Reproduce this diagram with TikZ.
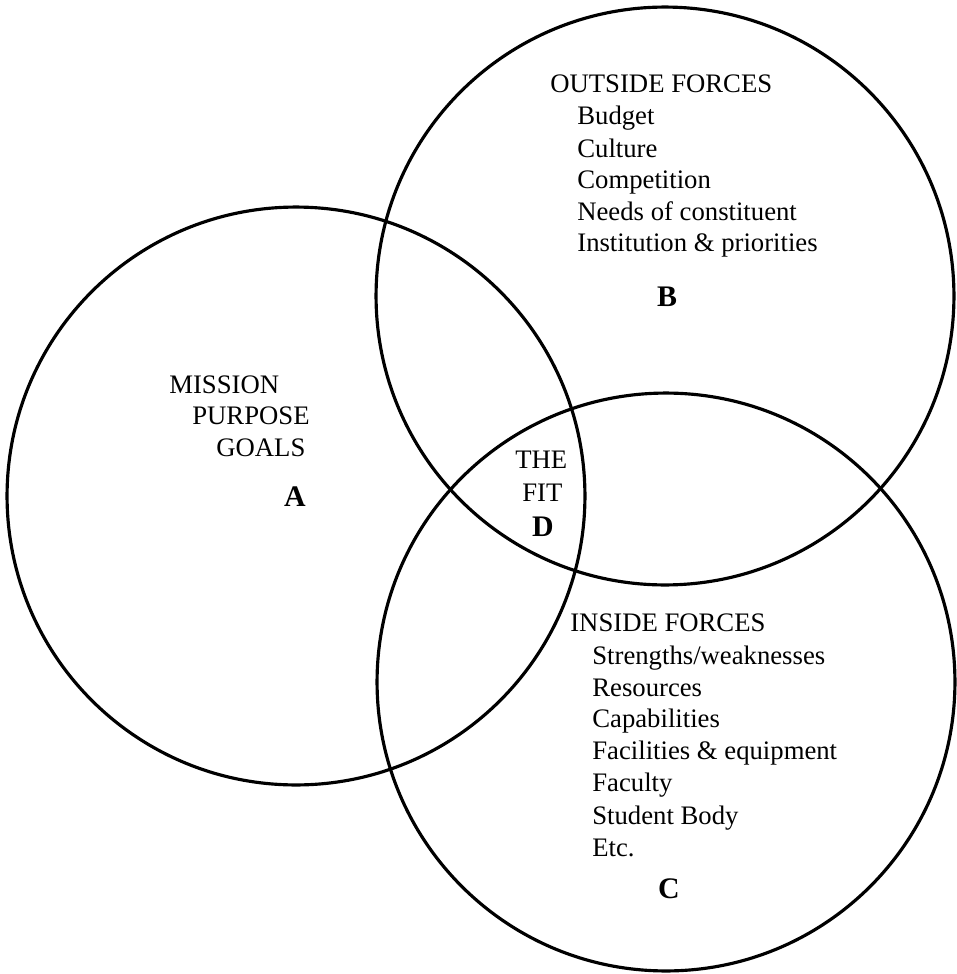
\documentclass[tikz,border=0pt]{standalone}
\usepackage{fontspec}
\setmainfont{Liberation Serif}
\begin{document}
\begin{tikzpicture}[x=0.02cm,y=-0.02cm,
  ring/.style={circle,draw=black,line width=1.8pt,
    minimum size=11.56cm,inner sep=0},
  item/.style={anchor=base west,inner sep=0,
    font=\fontsize{15.2}{18}\selectfont},
  tag/.style={inner sep=0,
    font=\fontsize{17}{20}\selectfont\bfseries}]
  \useasboundingbox (0,0) rectangle (957,974);
  \node[ring] (circA) at (296,496) {};
  \node[ring] (circB) at (665,296) {};
  \node[ring] (circC) at (666,682) {};
  % mission
  \node[item] (mission) at (169,393) {MISSION};
  \node[item] (purpose) at (192,424) {PURPOSE};
  \node[item] (goals) at (216,456) {GOALS};
  \node[tag] (tagA) at (295,497) {A};
  % outside forces
  \node[item] (outside) at (550,92) {OUTSIDE FORCES};
  \node[item] (budget) at (577,124) {Budget};
  \node[item] (culture) at (577,157) {Culture};
  \node[item] (compet) at (577,188) {Competition};
  \node[item] (needs) at (577,220) {Needs of constituent};
  \node[item] (instit) at (577,251) {Institution \& priorities};
  \node[tag] (tagB) at (667,297) {B};
  % the fit
  \node[item] (the) at (515,468) {THE};
  \node[item] (fit) at (522,501) {FIT};
  \node[tag] (tagD) at (543,527) {D};
  % inside forces
  \node[item] (inside) at (570,631) {INSIDE FORCES};
  \node[item] (strength) at (592,664) {Strengths/weaknesses};
  \node[item] (resource) at (592,696) {Resources};
  \node[item] (capab) at (592,727) {Capabilities};
  \node[item] (facil) at (592,759) {Facilities \& equipment};
  \node[item] (faculty) at (592,791) {Faculty};
  \node[item] (student) at (592,824) {Student Body};
  \node[item] (etc) at (592,856) {Etc.};
  \node[tag] (tagC) at (669,889) {C};
\end{tikzpicture}
\end{document}
